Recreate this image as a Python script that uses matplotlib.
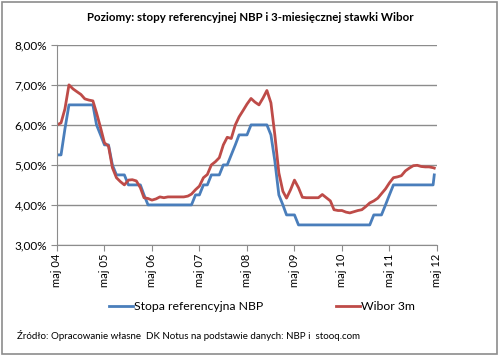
import matplotlib
matplotlib.use("Agg")
import matplotlib.pyplot as plt
from matplotlib.patches import Rectangle
from matplotlib.ticker import FuncFormatter
import pandas as pd

# miesięczne obserwacje od maja 2004 + ostatni odczyt z kwietnia 2012
dates = list(pd.date_range("2004-05-01", "2012-04-01", freq="MS")) + [pd.Timestamp("2012-04-10")]

nbp_rate = [
    5.25, 5.25, 5.90, 6.50, 6.50, 6.50, 6.50, 6.50, 6.50, 6.50,
    6.00, 5.75, 5.50, 5.50, 5.00, 4.75, 4.75, 4.75, 4.50, 4.50,
    4.50, 4.50, 4.25, 4.00, 4.00, 4.00, 4.00, 4.00, 4.00, 4.00,
    4.00, 4.00, 4.00, 4.00, 4.00, 4.25, 4.25, 4.50, 4.50, 4.75,
    4.75, 4.75, 5.00, 5.00, 5.25, 5.50, 5.75, 5.75, 5.75, 6.00,
    6.00, 6.00, 6.00, 6.00, 5.75, 5.10, 4.25, 4.00, 3.75, 3.75,
    3.75, 3.50, 3.50, 3.50, 3.50, 3.50, 3.50, 3.50, 3.50, 3.50,
    3.50, 3.50, 3.50, 3.50, 3.50, 3.50, 3.50, 3.50, 3.50, 3.50,
    3.75, 3.75, 3.75, 4.00, 4.25, 4.50, 4.50, 4.50, 4.50, 4.50,
    4.50, 4.50, 4.50, 4.50, 4.50, 4.50, 4.75,
]

wibor_3m = [
    6.00, 6.05, 6.40, 7.00, 6.90, 6.83, 6.76, 6.65, 6.62, 6.60,
    6.30, 5.93, 5.55, 5.47, 4.93, 4.68, 4.58, 4.50, 4.62, 4.63,
    4.60, 4.43, 4.18, 4.16, 4.12, 4.15, 4.20, 4.18, 4.20, 4.20,
    4.20, 4.20, 4.20, 4.22, 4.27, 4.38, 4.47, 4.68, 4.76, 5.00,
    5.08, 5.18, 5.50, 5.69, 5.66, 6.00, 6.20, 6.36, 6.52, 6.66,
    6.57, 6.50, 6.67, 6.86, 6.55, 5.75, 4.80, 4.34, 4.17, 4.38,
    4.62, 4.43, 4.19, 4.18, 4.18, 4.18, 4.18, 4.26, 4.18, 4.10,
    3.88, 3.86, 3.86, 3.82, 3.80, 3.83, 3.86, 3.88, 3.96, 4.05,
    4.10, 4.17, 4.28, 4.40, 4.55, 4.68, 4.70, 4.73, 4.85, 4.92,
    4.98, 4.99, 4.96, 4.95, 4.95, 4.93, 4.92,
]

tick_dates = list(pd.date_range("2004-05-01", "2012-05-01", freq="12MS"))
tick_labels = ["maj 04", "maj 05", "maj 06", "maj 07", "maj 08",
               "maj 09", "maj 10", "maj 11", "maj 12"]

BLUE = "#4a7ebb"
RED = "#be4b48"
GRID = "#8c8c8c"

plt.rcParams["font.family"] = ["Lato", "DejaVu Sans"]

fig = plt.figure(figsize=(5.0, 3.56), dpi=100)
ax = fig.add_axes([0.114, 0.312, 0.76, 0.562])

ax.plot(dates, nbp_rate, color=BLUE, lw=2.0, label="Stopa referencyjna NBP", solid_joinstyle="round")
ax.plot(dates, wibor_3m, color=RED, lw=2.0, label="Wibor 3m", solid_joinstyle="round")

ax.set_ylim(3.0, 8.0)
ax.set_yticks([3, 4, 5, 6, 7, 8])
ax.yaxis.set_major_formatter(FuncFormatter(lambda v, _: f"{v:.2f}%".replace(".", ",")))
ax.set_xlim(tick_dates[0], tick_dates[-1])
ax.set_xticks(tick_dates)
ax.set_xticklabels(tick_labels, rotation=90)

ax.grid(axis="y", color=GRID, lw=1.0)
ax.set_axisbelow(True)
for side in ("top", "right"):
    ax.spines[side].set_visible(False)
for side in ("left", "bottom"):
    ax.spines[side].set_color(GRID)
ax.tick_params(axis="both", colors=GRID, length=4, labelcolor="black")
ax.tick_params(axis="y", labelsize=8.5, pad=3)
ax.tick_params(axis="x", labelsize=8, pad=2)

fig.text(0.5, 0.952, "Poziomy: stopy referencyjnej NBP i 3-miesięcznej stawki Wibor",
         ha="center", va="center", fontsize=8.3, fontweight="bold")

fig.legend(loc="center", bbox_to_anchor=(0.524, 0.138), ncol=2, frameon=False,
           fontsize=8.8, handlelength=2.0, handletextpad=0.1, columnspacing=5.9)

fig.text(0.034, 0.058, "Źródło: Opracowanie własne  DK Notus na podstawie danych: NBP i  stooq.com",
         ha="left", va="center", fontsize=7)

fig.patches.append(Rectangle((0.004, 0.006), 0.99, 0.988, transform=fig.transFigure,
                             fill=False, edgecolor="#8c8c8c", lw=1.2))

fig.savefig("out.png", dpi=100)
